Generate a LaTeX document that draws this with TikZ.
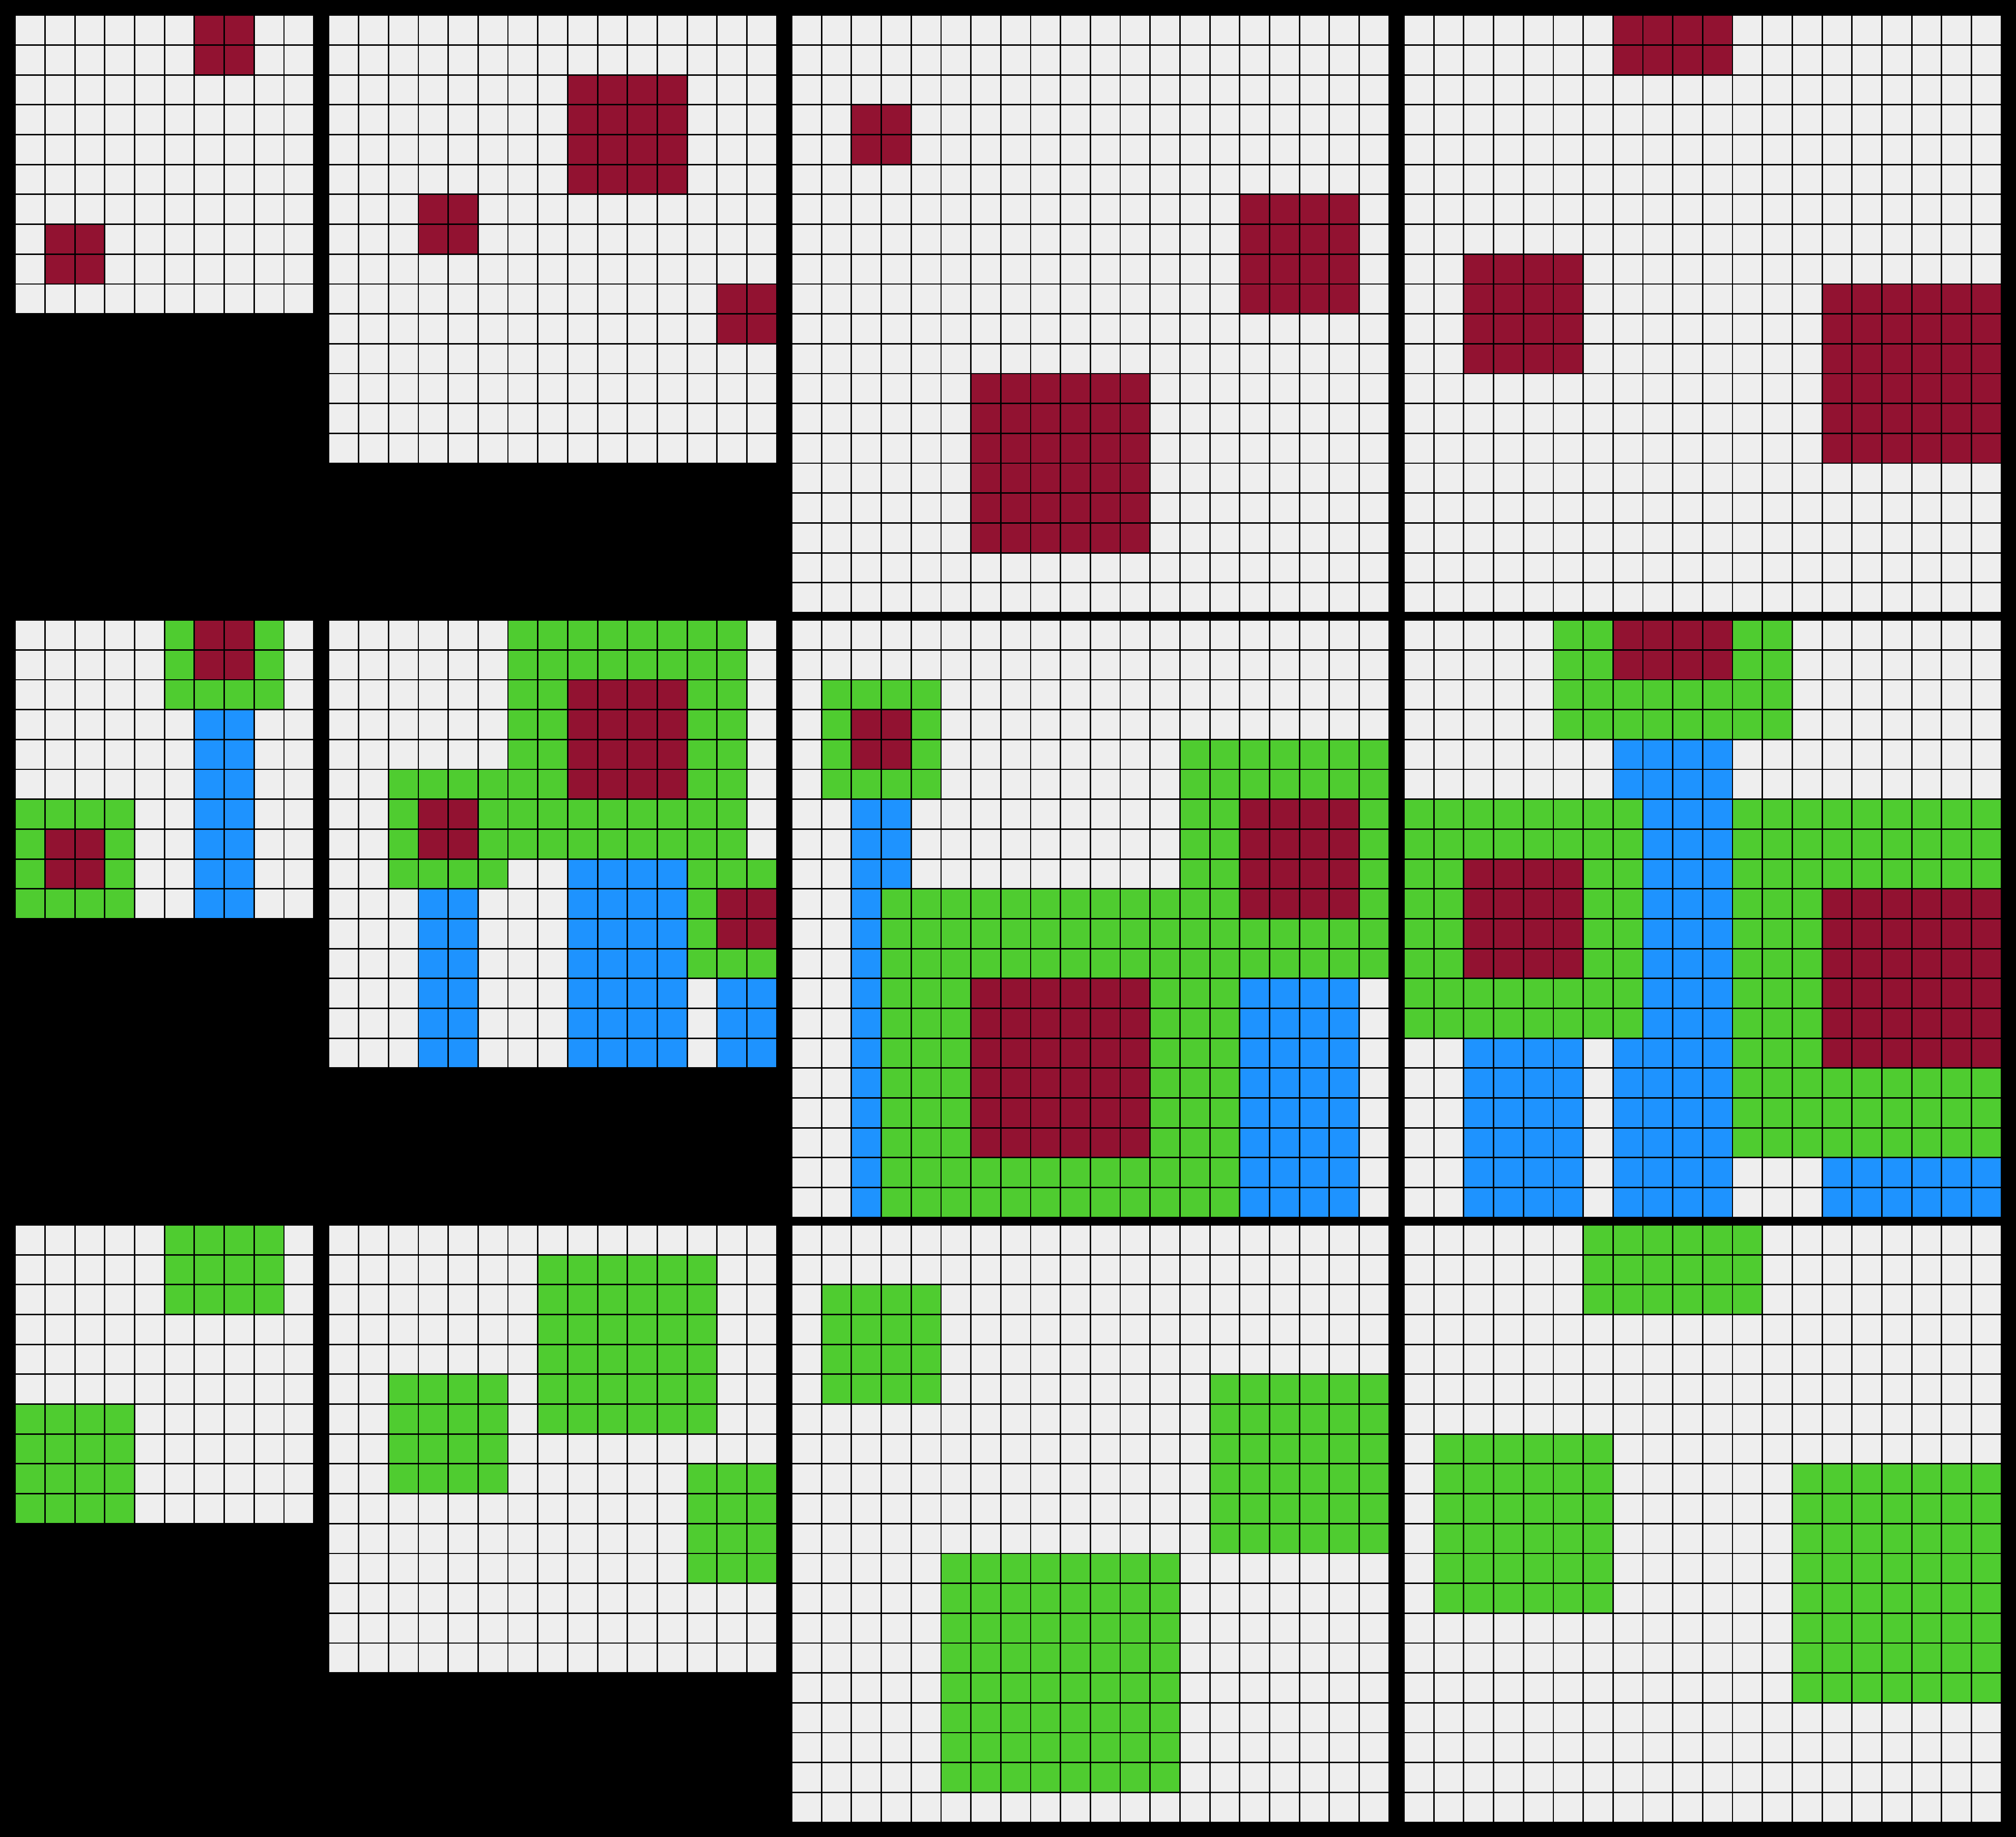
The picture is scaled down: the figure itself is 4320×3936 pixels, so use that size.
\documentclass[tikz,border=0pt]{standalone}
\definecolor{cgray}{HTML}{EEEEEE}
\definecolor{cred}{HTML}{921231}
\definecolor{cgreen}{HTML}{4FCC30}
\definecolor{cblue}{HTML}{1E93FF}
\tikzset{gridline/.style={black, line width=0.03cm}}
\newcommand\arcgrid[3]{%
  \fill[cgray] (#1,#2) rectangle ++({64*#3-3},{64*#3-3});}
\newcommand\arcbox[7]{%
  \fill[#7] ({#1+64*#3},{#2+64*#4}) rectangle ({#1+64*#5+61},{#2+64*#6+61});}
\newcommand\arclines[3]{%
  \pgfmathtruncatemacro\arcnm{#3-1}%
  \foreach \k in {1,...,\arcnm}{%
    \draw[gridline] ({#1+64*\k-1.5},#2) -- ++(0,{64*#3-3});
    \draw[gridline] (#1,{#2+64*\k-1.5}) -- ++({64*#3-3},0);
  }}
\begin{document}
\begin{tikzpicture}[x=0.01cm,y=-0.01cm]
\fill[black] (0,0) rectangle (4320,3936);
\useasboundingbox (0,0) rectangle (4320,3936);
% ---------------- row 1 (inputs) ----------------
\arcgrid{34}{34}{10}
\arcbox{34}{34}{6}{0}{7}{1}{cred}
\arcbox{34}{34}{1}{7}{2}{8}{cred}
\arclines{34}{34}{10}
\arcgrid{706}{34}{15}
\arcbox{706}{34}{8}{2}{11}{5}{cred}
\arcbox{706}{34}{3}{6}{4}{7}{cred}
\arcbox{706}{34}{13}{9}{14}{10}{cred}
\arclines{706}{34}{15}
\arcgrid{1698}{34}{20}
\arcbox{1698}{34}{2}{3}{3}{4}{cred}
\arcbox{1698}{34}{15}{6}{18}{9}{cred}
\arcbox{1698}{34}{6}{12}{11}{17}{cred}
\arclines{1698}{34}{20}
\arcgrid{3010}{34}{20}
\arcbox{3010}{34}{7}{0}{10}{1}{cred}
\arcbox{3010}{34}{2}{8}{5}{11}{cred}
\arcbox{3010}{34}{14}{9}{19}{14}{cred}
\arclines{3010}{34}{20}
% ---------------- row 2 ----------------
\arcgrid{34}{1330}{10}
\arcbox{34}{1330}{6}{3}{7}{9}{cblue}
\arcbox{34}{1330}{5}{0}{8}{2}{cgreen}
\arcbox{34}{1330}{0}{6}{3}{9}{cgreen}
\arcbox{34}{1330}{6}{0}{7}{1}{cred}
\arcbox{34}{1330}{1}{7}{2}{8}{cred}
\arclines{34}{1330}{10}
\arcgrid{706}{1330}{15}
\arcbox{706}{1330}{3}{9}{4}{14}{cblue}
\arcbox{706}{1330}{8}{8}{11}{14}{cblue}
\arcbox{706}{1330}{13}{12}{14}{14}{cblue}
\arcbox{706}{1330}{6}{0}{13}{7}{cgreen}
\arcbox{706}{1330}{2}{5}{5}{8}{cgreen}
\arcbox{706}{1330}{12}{8}{14}{11}{cgreen}
\arcbox{706}{1330}{8}{2}{11}{5}{cred}
\arcbox{706}{1330}{3}{6}{4}{7}{cred}
\arcbox{706}{1330}{13}{9}{14}{10}{cred}
\arclines{706}{1330}{15}
\arcgrid{1698}{1330}{20}
\arcbox{1698}{1330}{2}{6}{3}{19}{cblue}
\arcbox{1698}{1330}{15}{12}{18}{19}{cblue}
\arcbox{1698}{1330}{1}{2}{4}{5}{cgreen}
\arcbox{1698}{1330}{13}{4}{19}{11}{cgreen}
\arcbox{1698}{1330}{3}{9}{14}{19}{cgreen}
\arcbox{1698}{1330}{2}{3}{3}{4}{cred}
\arcbox{1698}{1330}{15}{6}{18}{9}{cred}
\arcbox{1698}{1330}{6}{12}{11}{17}{cred}
\arclines{1698}{1330}{20}
\arcgrid{3010}{1330}{20}
\arcbox{3010}{1330}{7}{4}{10}{19}{cblue}
\arcbox{3010}{1330}{2}{14}{5}{19}{cblue}
\arcbox{3010}{1330}{14}{18}{19}{19}{cblue}
\arcbox{3010}{1330}{5}{0}{12}{3}{cgreen}
\arcbox{3010}{1330}{0}{6}{7}{13}{cgreen}
\arcbox{3010}{1330}{11}{6}{19}{17}{cgreen}
\arcbox{3010}{1330}{7}{0}{10}{1}{cred}
\arcbox{3010}{1330}{2}{8}{5}{11}{cred}
\arcbox{3010}{1330}{14}{9}{19}{14}{cred}
\arclines{3010}{1330}{20}
% ---------------- row 3 ----------------
\arcgrid{34}{2626}{10}
\arcbox{34}{2626}{5}{0}{8}{2}{cgreen}
\arcbox{34}{2626}{0}{6}{3}{9}{cgreen}
\arclines{34}{2626}{10}
\arcgrid{706}{2626}{15}
\arcbox{706}{2626}{7}{1}{12}{6}{cgreen}
\arcbox{706}{2626}{2}{5}{5}{8}{cgreen}
\arcbox{706}{2626}{12}{8}{14}{11}{cgreen}
\arclines{706}{2626}{15}
\arcgrid{1698}{2626}{20}
\arcbox{1698}{2626}{1}{2}{4}{5}{cgreen}
\arcbox{1698}{2626}{14}{5}{19}{10}{cgreen}
\arcbox{1698}{2626}{5}{11}{12}{18}{cgreen}
\arclines{1698}{2626}{20}
\arcgrid{3010}{2626}{20}
\arcbox{3010}{2626}{6}{0}{11}{2}{cgreen}
\arcbox{3010}{2626}{1}{7}{6}{12}{cgreen}
\arcbox{3010}{2626}{13}{8}{19}{15}{cgreen}
\arclines{3010}{2626}{20}
\end{tikzpicture}
\end{document}
